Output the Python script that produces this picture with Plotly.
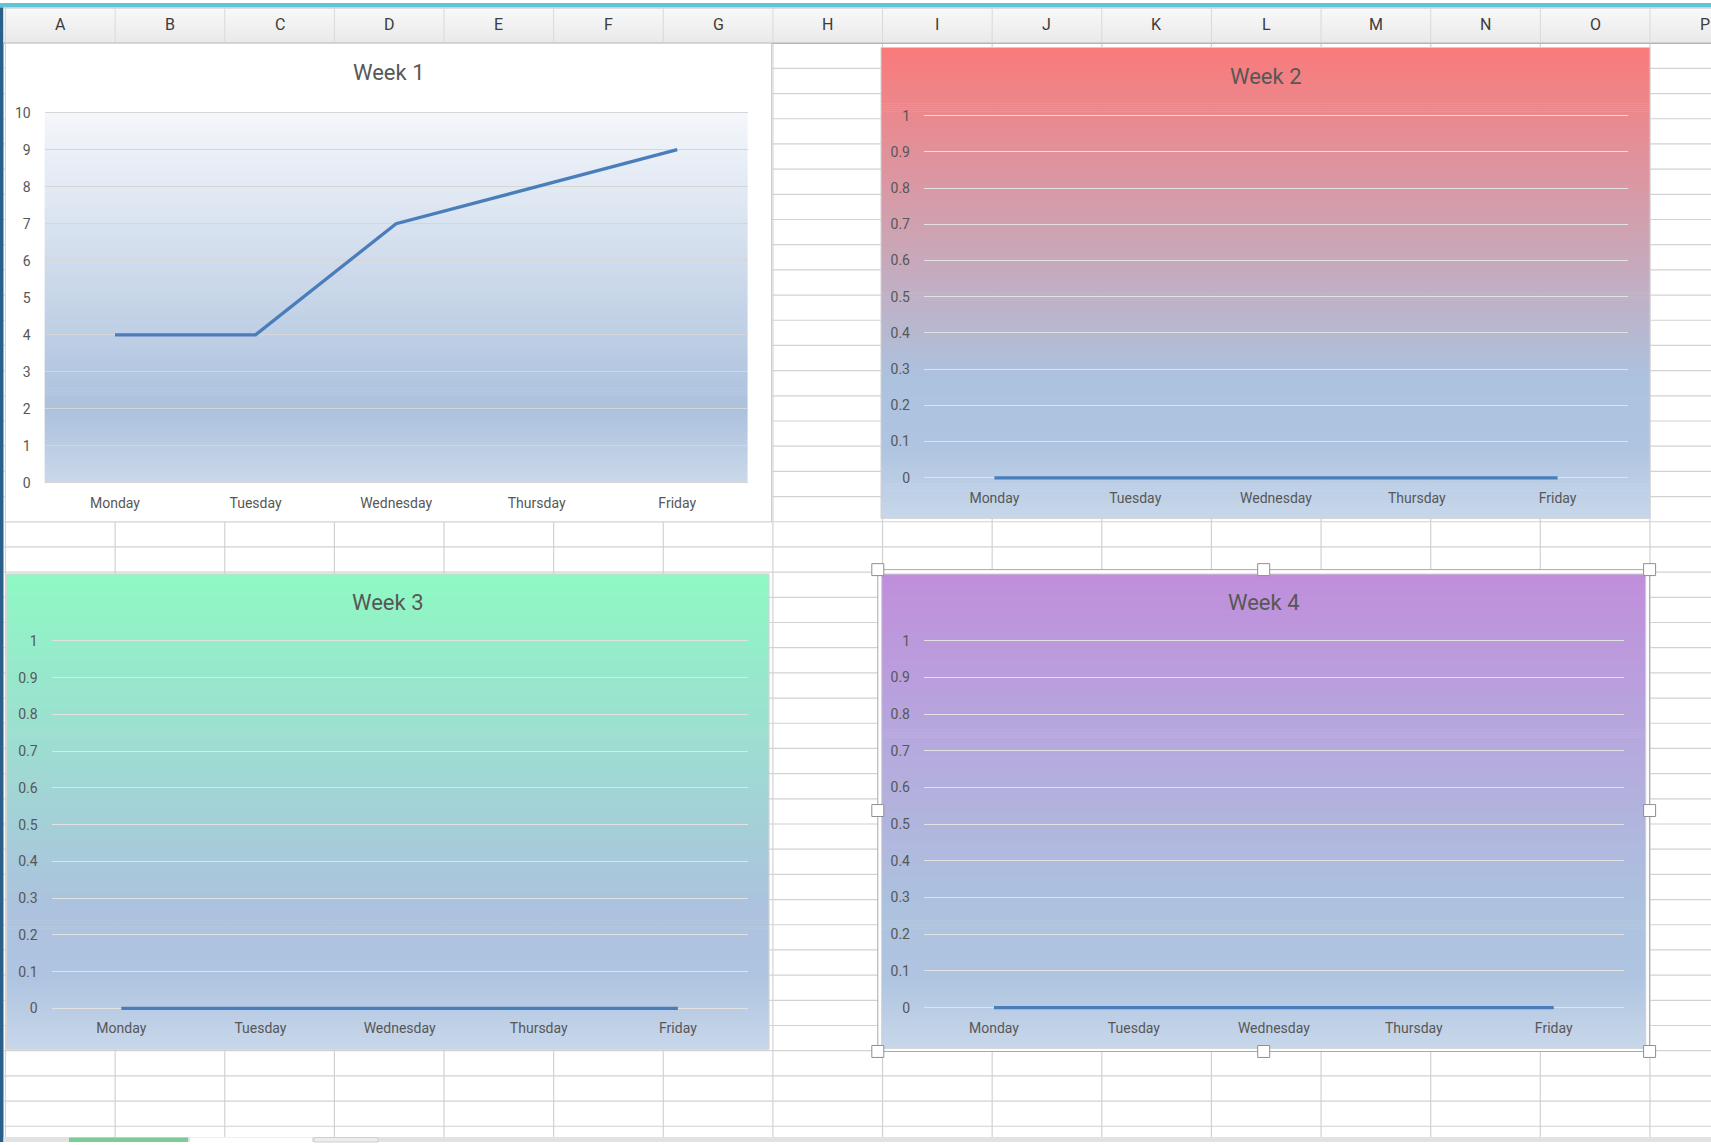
import plotly.graph_objects as go

# ---------------- data ----------------
days = ["Monday", "Tuesday", "Wednesday", "Thursday", "Friday"]
week1 = [4, 4, 7, 8, 9]
week2 = [0, 0, 0, 0, 0]
week3 = [0, 0, 0, 0, 0]
week4 = [0, 0, 0, 0, 0]
titles = ["Week 1", "Week 2", "Week 3", "Week 4"]
column_letters = ["A", "B", "C", "D", "E", "F", "G", "H",
                  "I", "J", "K", "L", "M", "N", "O", "P"]
week1_ticks = [0, 1, 2, 3, 4, 5, 6, 7, 8, 9, 10]
fraction_ticks = [0, 0.1, 0.2, 0.3, 0.4, 0.5, 0.6, 0.7, 0.8, 0.9, 1]

# ---------------- page geometry (pixels) ----------------
W, H = 1711, 1145
COL_X0, COL_W = 5.5, 109.63
HEAD_TOP, HEAD_BOT = 4.5, 40.4
ROW_H = 25.32
N_ROWS = 43
EDGE_PAD = 5.0          # extra room above/below the value range so end gridlines show

FONT = "Roboto"
TEXT = "#575757"
LINE_BLUE = "#4a7ebb"


def px(x):
    return x / W


def py(y):
    return 1 - y / H


def hex_rgb(c):
    c = c.lstrip("#")
    return tuple(int(c[i:i + 2], 16) for i in (0, 2, 4))


def mix(stops, t):
    t = max(0.0, min(1.0, t))
    for (t0, c0), (t1, c1) in zip(stops[:-1], stops[1:]):
        if t <= t1:
            f = 0 if t1 == t0 else (t - t0) / (t1 - t0)
            a, b = hex_rgb(c0), hex_rgb(c1)
            r = [round(a[k] + (b[k] - a[k]) * f) for k in range(3)]
            return "rgb(%d,%d,%d)" % tuple(r)
    return stops[-1][1]


def rect(x0, y0, x1, y1, fill, line=None, lw=0, layer="below"):
    return dict(type="rect", xref="paper", yref="paper",
                x0=px(x0), x1=px(x1), y0=py(y1), y1=py(y0),
                fillcolor=fill, layer=layer,
                line=dict(color=line or "rgba(0,0,0,0)", width=lw))


def hline(x0, x1, y, color, lw=1):
    return dict(type="line", xref="paper", yref="paper", layer="below",
                x0=px(x0), x1=px(x1), y0=py(y), y1=py(y),
                line=dict(color=color, width=lw))


def vline(x, y0, y1, color, lw=1):
    return dict(type="line", xref="paper", yref="paper", layer="below",
                x0=px(x), x1=px(x), y0=py(y0), y1=py(y1),
                line=dict(color=color, width=lw))


def gradient(x0, y0, x1, y1, stops, step=2.0):
    out = []
    y = y0
    while y < y1 - 1e-6:
        yb = min(y + step, y1)
        t = ((y + yb) / 2 - y0) / (y1 - y0)
        out.append(rect(x0, y, x1, min(yb + 0.7, y1), mix(stops, t)))
        y = yb
    return out


def fade(top):
    return [(0.0, top), (0.70, "#acc2de"), (0.85, "#aec4e0"), (1.0, "#c8d7ea")]


shapes = []
annotations = []

# ---------------- worksheet background ----------------
GRID = "#d2d2d2"
for k in range(1, N_ROWS + 1):
    shapes.append(hline(4, W, HEAD_BOT + k * ROW_H, GRID, 1.2))
for k in range(0, 16):
    shapes.append(vline(COL_X0 + k * COL_W, HEAD_BOT, 1140, GRID, 1.2))

# window chrome
shapes.append(rect(0, 0, W, HEAD_TOP, "#5ec4d8"))
shapes.append(rect(0, HEAD_TOP, 3.5, 1145, "#2a5f8a"))
shapes.append(rect(3.5, 1140, W, 1145, "#e2e2e2"))
shapes.append(rect(69, 1140.5, 188, 1145, "#7dcb98"))
shapes.append(rect(190, 1140.5, 312, 1145, "#ffffff"))
shapes.append(rect(314, 1140.5, 378, 1145, "#ececec", "#cfcfcf", 1))

# column header band
shapes += gradient(3.5, HEAD_TOP, W, HEAD_BOT, [(0, "#f9f9f9"), (1, "#e9e9e9")], 3)
shapes.append(hline(3.5, W, HEAD_TOP + 0.5, "#bdbdbd", 1))
shapes.append(hline(3.5, W, HEAD_BOT, "#b5b5b5", 1.6))
for k in range(0, 16):
    shapes.append(vline(COL_X0 + k * COL_W, HEAD_TOP + 1, HEAD_BOT - 1, "#d9d9d9", 1))
for k, letter in enumerate(column_letters):
    annotations.append(dict(text=letter, x=px(COL_X0 + (k + 0.5) * COL_W), y=py(22.0),
                            xref="paper", yref="paper", showarrow=False,
                            xanchor="center", yanchor="middle",
                            font=dict(family=FONT, size=16, color="#3c3c3c")))

# ---------------- chart containers ----------------
charts = [
    dict(box=(5.5, 40.4, 771.5, 521.6), chart_fill=None,
         plot=(44.7, 747.5, 110.2, 482.5),
         plot_fill=[(0.0, "#f4f7fb"), (0.8, "#acc1dd"), (1.0, "#cbd8ea")],
         values=week1, ticks=week1_ticks, grid="#d6d6d6", title_y=69.8),
    dict(box=(881.0, 44.7, 1650.0, 518.0), chart_fill=fade("#fa7a7a"),
         plot=(924.0, 1628.0, 113.3, 477.3), plot_fill=None,
         values=week2, ticks=fraction_ticks, grid="#e2e2e2", title_y=74.2),
    dict(box=(6.7, 574.0, 769.0, 1051.7), chart_fill=fade("#8ef9c3"),
         plot=(51.7, 747.5, 641.3, 1010.7), plot_fill=None,
         values=week3, ticks=fraction_ticks, grid="#e2e2e2", title_y=602.3),
    dict(box=(881.7, 574.0, 1645.7, 1050.7), chart_fill=fade("#c08edc"),
         plot=(924.0, 1623.7, 641.0, 1010.0), plot_fill=None,
         values=week4, ticks=fraction_ticks, grid="#e2e2e2", title_y=602.3),
]

# selection frame around the active chart
SEL = (877.8, 569.6, 1649.6, 1054.0)
shapes.append(rect(*SEL, "#ffffff", "#a8a8a8", 1))

for ch in charts:
    x0, y0, x1, y1 = ch["box"]
    if ch["chart_fill"] is None:
        shapes.append(rect(x0, y0, x1, y1, "#ffffff"))
    else:
        shapes += gradient(x0, y0, x1, y1, ch["chart_fill"])
    shapes.append(rect(x0, y0, x1, y1, "rgba(0,0,0,0)", "#d0d0d0", 1))
    if ch["plot_fill"] is not None:
        p0, p1, pt, pb = ch["plot"]
        shapes += gradient(p0, pt, p1, pb, ch["plot_fill"])

# selection handles
hx = [SEL[0], (SEL[0] + SEL[2]) / 2, SEL[2]]
hy = [SEL[1], (SEL[1] + SEL[3]) / 2, SEL[3]]
for i, cx in enumerate(hx):
    for j, cy in enumerate(hy):
        if i == 1 and j == 1:
            continue
        shapes.append(rect(cx - 6, cy - 6, cx + 6, cy + 6,
                           "#ffffff", "#8f8f8f", 1, layer="above"))

# ---------------- line charts ----------------
fig = go.Figure()
layout_axes = {}
for i, (ch, title) in enumerate(zip(charts, titles), start=1):
    sfx = "" if i == 1 else str(i)
    p0, p1, pt, pb = ch["plot"]
    vals = ch["values"]
    ticks = ch["ticks"]
    lo_v, hi_v = ticks[0], ticks[-1]
    per_unit = (pb - pt) / (hi_v - lo_v)
    pad_v = EDGE_PAD / per_unit
    fig.add_trace(go.Scatter(
        x=days, y=vals, mode="lines", xaxis="x" + sfx, yaxis="y" + sfx,
        line=dict(color=LINE_BLUE, width=3.3), cliponaxis=False,
        hoverinfo="skip", showlegend=False))
    layout_axes["xaxis" + sfx] = dict(
        domain=[px(p0), px(p1)], anchor="y" + sfx, type="category",
        categoryorder="array", categoryarray=days, range=[-0.5, 4.5],
        showgrid=False, zeroline=False, showline=False, ticks="",
        ticklabelstandoff=int(round(10 - EDGE_PAD)), fixedrange=True,
        tickfont=dict(family=FONT, size=14, color=TEXT))
    layout_axes["yaxis" + sfx] = dict(
        domain=[py(pb + EDGE_PAD), py(pt - EDGE_PAD)], anchor="x" + sfx,
        range=[lo_v - pad_v, hi_v + pad_v], tickmode="array", tickvals=ticks,
        ticktext=[("%g" % t) for t in ticks],
        showgrid=True, gridcolor=ch["grid"], gridwidth=1.4,
        zeroline=False, showline=False, ticks="",
        ticklabelstandoff=13, fixedrange=True,
        tickfont=dict(family=FONT, size=14, color=TEXT))
    bx0, by0, bx1, by1 = ch["box"]
    annotations.append(dict(text=title, x=px((bx0 + bx1) / 2), y=py(ch["title_y"]),
                            xref="paper", yref="paper", showarrow=False,
                            xanchor="center", yanchor="middle",
                            font=dict(family=FONT, size=22, color=TEXT)))

fig.update_layout(
    width=W, height=H, margin=dict(l=0, r=0, t=0, b=0, pad=0),
    paper_bgcolor="#ffffff", plot_bgcolor="rgba(0,0,0,0)",
    shapes=shapes, annotations=annotations, showlegend=False,
    **layout_axes)

# pin the figure to the top-left corner of the page
page_js = (
    "var d=document.getElementById('{plot_id}');"
    "document.documentElement.style.margin='0';"
    "document.body.style.margin='0';"
    "document.body.style.overflow='hidden';"
    "d.style.position='absolute';d.style.left='0px';d.style.top='0px';"
)
fig.write_html("out.html", config={"displayModeBar": False}, post_script=page_js)
